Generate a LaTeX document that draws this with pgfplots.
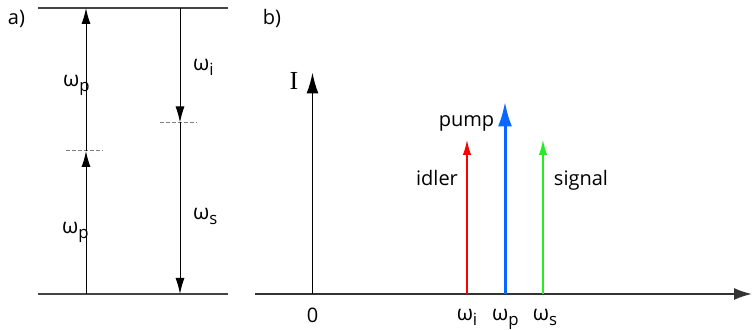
\documentclass[border=0pt]{standalone}
\usepackage{pgfplots}
\pgfplotsset{compat=1.18}
\usepackage{fontspec}
\setmainfont{Open Sans}
\newfontfamily\serifI{Liberation Serif}
\usetikzlibrary{arrows.meta}
\definecolor{txt}{HTML}{333333}
\definecolor{lev}{HTML}{444444}
\definecolor{pumpblue}{HTML}{0A66FF}
\definecolor{idred}{HTML}{FF0000}
\definecolor{siggreen}{HTML}{22EE22}
\newcommand{\w}[1]{{\fontsize{10.5}{12}\selectfont ω}\raisebox{-0.25em}{\fontsize{8.4}{9}\selectfont #1}}
\begin{document}
\begin{tikzpicture}
\begin{axis}[
  scale only axis, width=376pt, height=165pt,
  xmin=0, xmax=752, ymin=0, ymax=330,
  hide axis, clip=false,
  every node/.append style={font=\fontsize{9}{11}\selectfont, text=txt, inner sep=0pt},
]
% ---------- panel a: levels ----------
\addplot[lev, line width=1pt] coordinates {(38,322) (228,322)};
\addplot[lev, line width=1pt] coordinates {(38,36) (228,36)};
% virtual levels (dashed)
\addplot[gray, line width=0.5pt, dash pattern=on 2pt off 1pt] coordinates {(66,179) (103,179)};
\addplot[gray, line width=0.5pt, dash pattern=on 2pt off 1pt] coordinates {(160,207.5) (197,207.5)};
% pump photons (up)
\addplot[black, line width=0.5pt, -{Latex[length=8pt,width=4.5pt]}] coordinates {(86,36) (86,179)};
\addplot[black, line width=0.5pt, -{Latex[length=8pt,width=4.5pt]}] coordinates {(86,179) (86,322)};
% idler and signal photons (down)
\addplot[black, line width=0.5pt, -{Latex[length=8pt,width=4.5pt]}] coordinates {(180,322) (180,207.5)};
\addplot[black, line width=0.5pt, -{Latex[length=8pt,width=4.5pt]}] coordinates {(180,207.5) (180,36)};
\node[anchor=base west] at (axis cs:56,243) {\w{p}};
\node[anchor=base west] at (axis cs:55,96) {\w{p}};
\node[anchor=base west] at (axis cs:186,259) {\w{i}};
\node[anchor=base west] at (axis cs:186,110) {\w{s}};
\node at (axis cs:16.5,311) {a)};
% ---------- panel b: spectrum ----------
\addplot[txt, line width=0.9pt, -{Latex[length=9pt,width=6pt]}] coordinates {(255,36) (752,36)};
\addplot[black, line width=0.85pt, -{Latex[length=10.5pt,width=6pt]}] coordinates {(312.5,36) (312.5,257.5)};
% spectral lines
\addplot[idred, line width=0.6pt, -{Latex[length=7.5pt,width=4.2pt]}] coordinates {(467,36) (467,190)};
\addplot[pumpblue, line width=1.5pt, -{Latex[length=12.5pt,width=7pt]}] coordinates {(505,36) (505,228.5)};
\addplot[siggreen, line width=0.6pt, -{Latex[length=7.5pt,width=4.2pt]}] coordinates {(543,36) (543,190)};
\node[anchor=base] at (axis cs:466.5,203) {pump};
\node[anchor=base] at (axis cs:437,144) {idler};
\node[anchor=base] at (axis cs:581,144) {signal};
\node at (axis cs:272,312) {b)};
\node at (axis cs:294,248.5) {\fontsize{13}{14}\selectfont\serifI I};
\node at (axis cs:312.5,15) {0};
\node[anchor=base] at (axis cs:467,9) {\w{i}};
\node[anchor=base] at (axis cs:505.5,9) {\w{p}};
\node[anchor=base] at (axis cs:545,9) {\w{s}};
\node[anchor=base west] at (axis cs:745,11) {\fontsize{10.5}{12}\selectfont ω};
\end{axis}
\pgfresetboundingbox
\useasboundingbox (0,0) rectangle (376pt,165pt);
\end{tikzpicture}
\end{document}
